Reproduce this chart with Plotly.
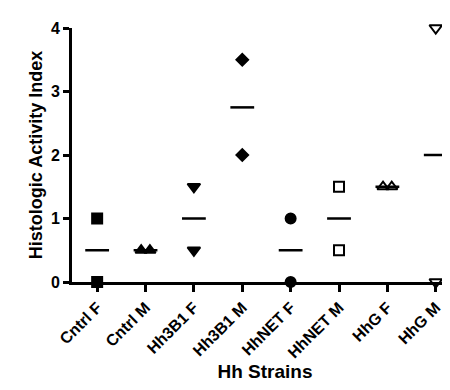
import plotly.graph_objects as go

categories = ["Cntrl F", "Cntrl M", "Hh3B1 F", "Hh3B1 M", "HhNET F", "HhNET M", "HhG F", "HhG M"]
values = [
    [1.0, 0.0],
    [0.5, 0.5],
    [1.5, 0.5],
    [3.5, 2.0],
    [1.0, 0.0],
    [1.5, 0.5],
    [1.5, 1.5],
    [4.0, 0.0],
]
symbols = ["square", "triangle-up", "triangle-down", "diamond", "circle",
           "square-open", "triangle-up-open", "triangle-down-open"]
sizes = [10, 10, 11, 9, 10, 10, 10, 11]

fig = go.Figure()
for i, (cat, vals) in enumerate(zip(categories, values)):
    xs = []
    for j, v in enumerate(vals):
        dup = vals.count(v) > 1
        off = (j - (len(vals) - 1) / 2) * 0.18 if dup else 0
        xs.append(i + off)
    fig.add_trace(go.Scatter(
        x=xs, y=vals, mode="markers", cliponaxis=False,
        marker=dict(symbol=symbols[i], size=sizes[i], color="black",
                    line=dict(color="black", width=2)),
        showlegend=False))
    mean = sum(vals) / len(vals)
    fig.add_trace(go.Scatter(
        x=[i], y=[mean], mode="markers", cliponaxis=False,
        marker=dict(symbol="line-ew", size=17, color="black",
                    line=dict(color="black", width=2.5)),
        showlegend=False))

font_b = "Liberation Sans, Arial, sans-serif"
fig.update_layout(
    width=450, height=390,
    margin=dict(l=64, r=0, t=20, b=116),
    paper_bgcolor="white", plot_bgcolor="white",
    font=dict(family=font_b, color="black"),
    xaxis=dict(
        range=[-0.52, 7.46], tickmode="array",
        tickvals=list(range(len(categories))), ticktext=[f"<b>{c}</b>" for c in categories],
        tickangle=-45, tickfont=dict(size=16, family=font_b),
        ticks="outside", ticklen=7, tickwidth=2.5, tickcolor="black",
        showline=True, linewidth=3, linecolor="black", showgrid=False, zeroline=False,
        title=dict(text="<b>Hh Strains</b>", font=dict(size=19), standoff=4),
    ),
    yaxis=dict(
        range=[0, 4], tickvals=[0, 1, 2, 3, 4], ticktext=["<b>0</b>", "<b>1</b>", "<b>2</b>", "<b>3</b>", "<b>4</b>"],
        tickfont=dict(size=16, family=font_b),
        ticks="outside", ticklen=6, tickwidth=2.5, tickcolor="black",
        showline=True, linewidth=3, linecolor="black", showgrid=False, zeroline=False,
        title=dict(text="<b>Histologic Activity Index</b>", font=dict(size=18), standoff=4),
    ),
)
fig.write_html("out.html")
